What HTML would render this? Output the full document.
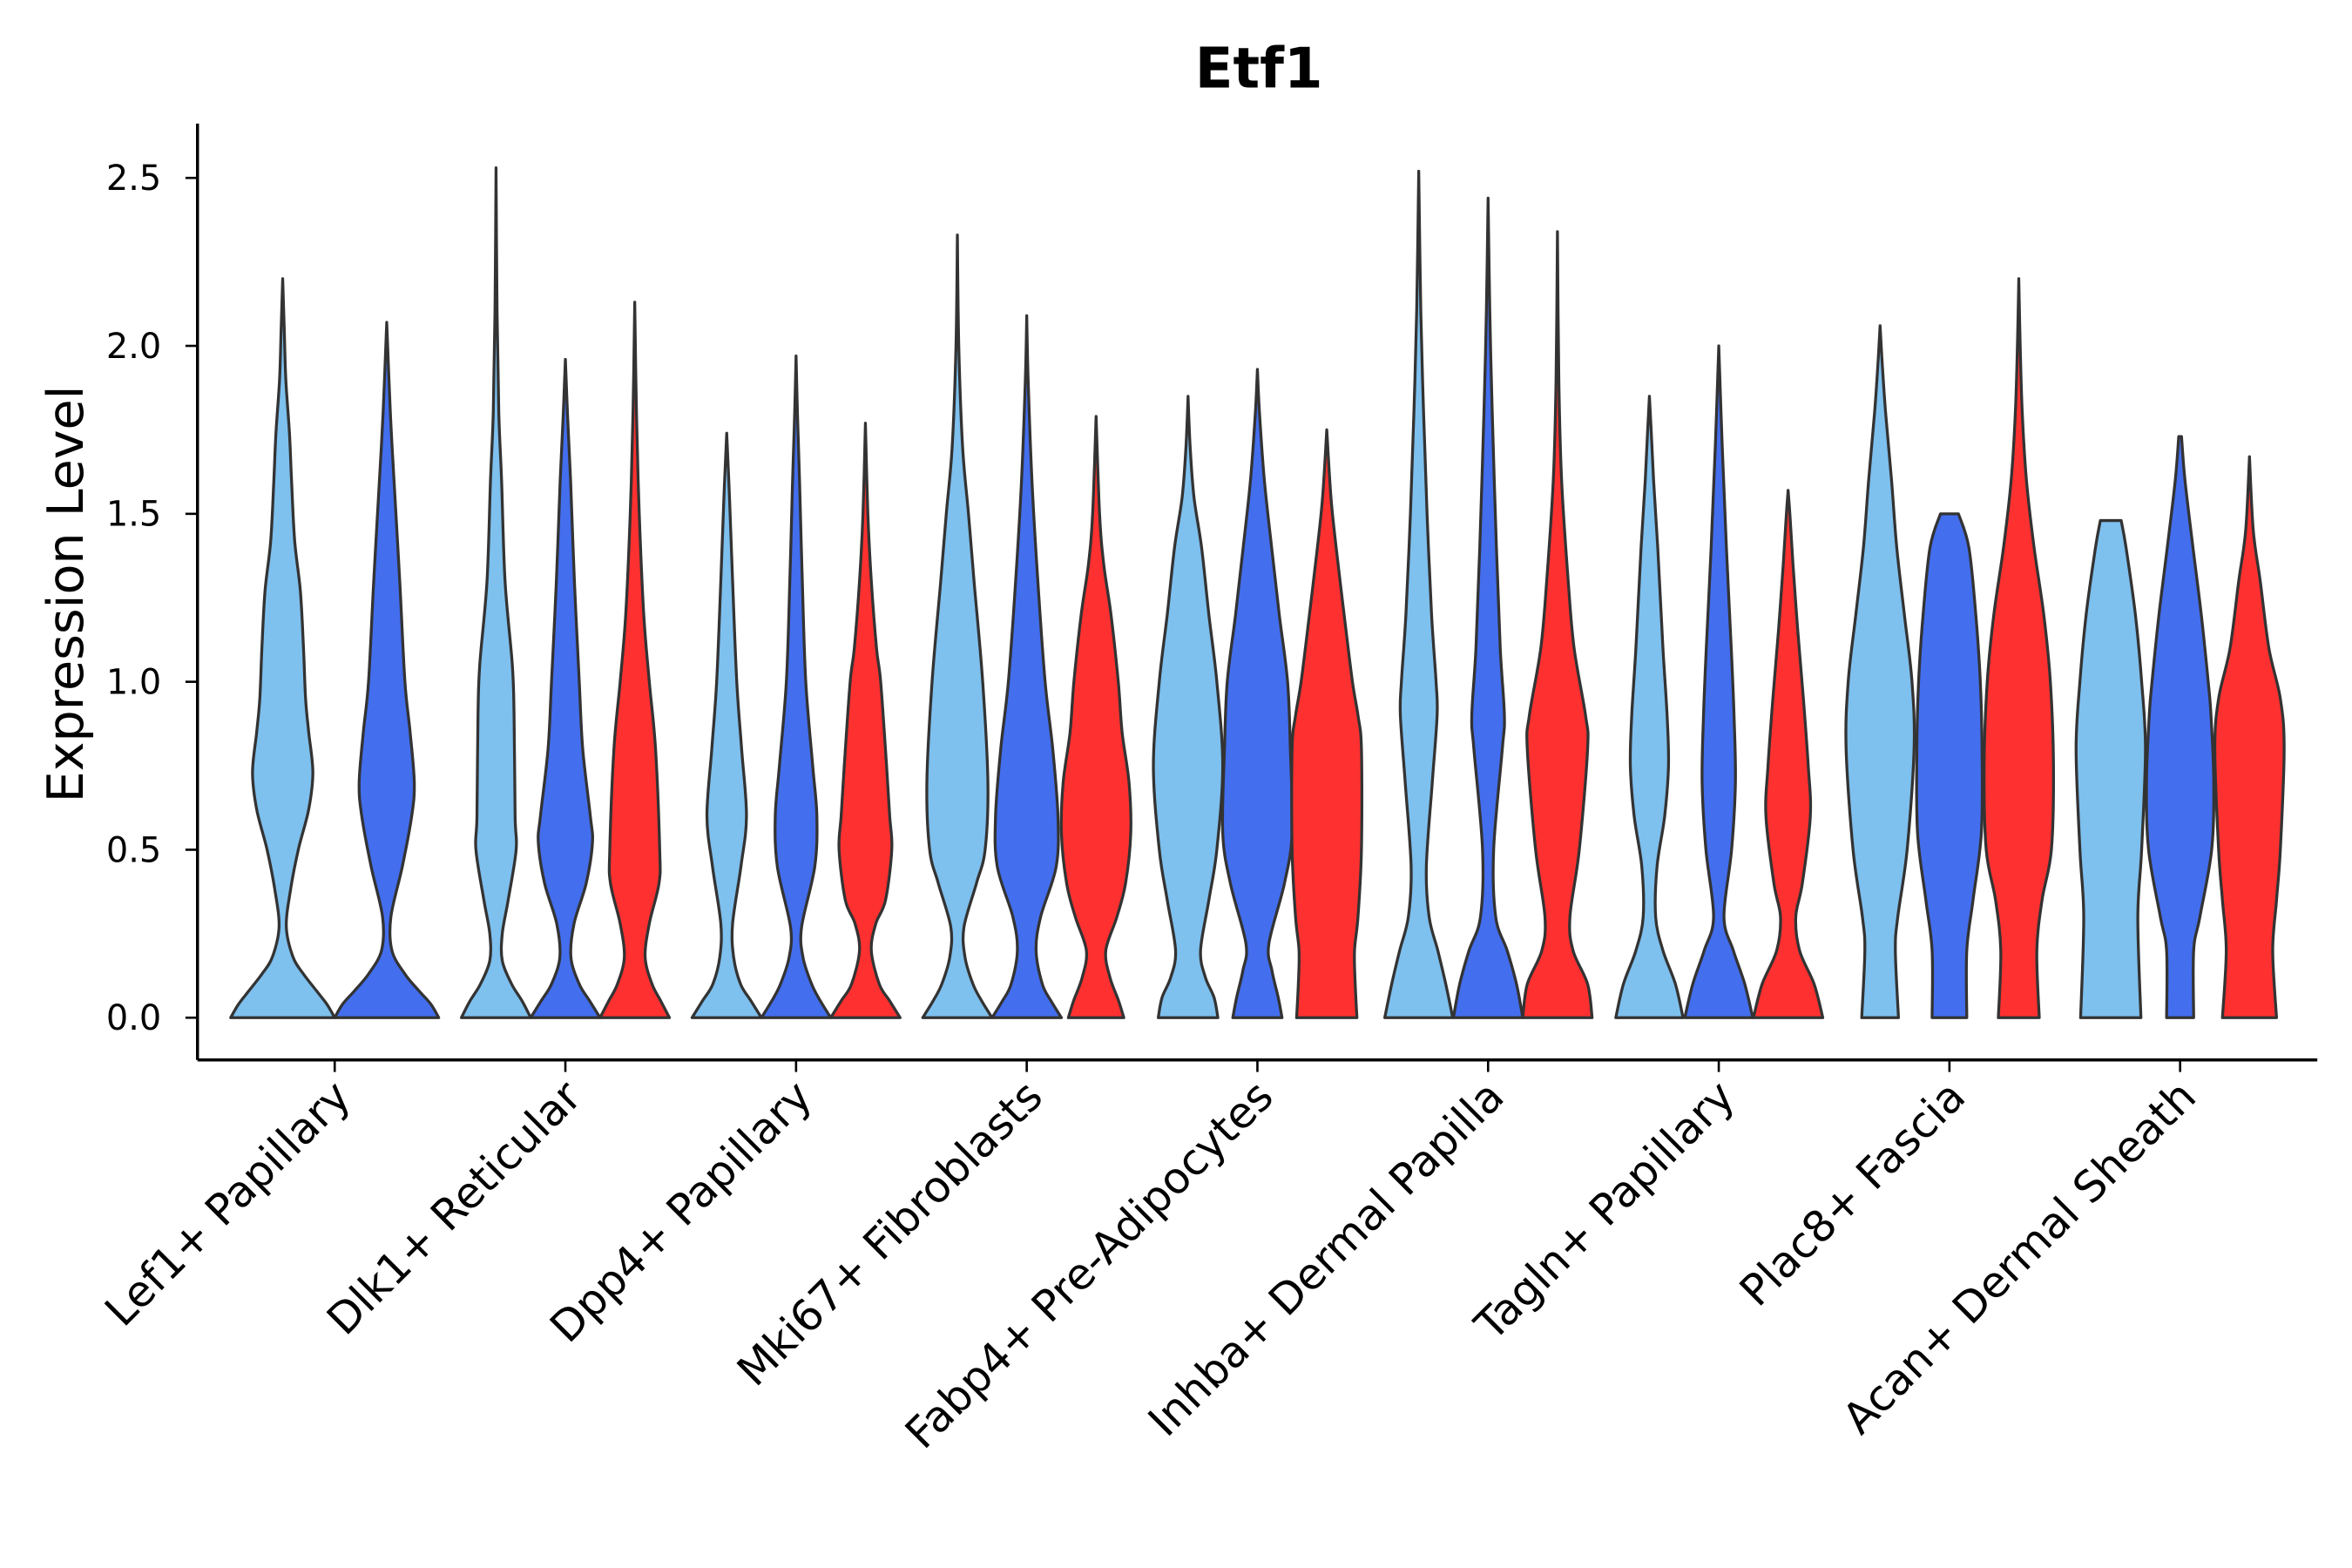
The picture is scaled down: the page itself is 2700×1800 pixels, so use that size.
<!DOCTYPE html>
<html><head><meta charset="utf-8"><style>
html,body{margin:0;padding:0;background:#fff;}
svg{display:block;font-family:"DejaVu Sans","Liberation Sans",sans-serif;}
</style></head><body>
<svg id="chart" width="2700" height="1800" viewBox="0 0 1560 1040" xmlns="http://www.w3.org/2000/svg">
<rect width="1560" height="1040" fill="#fff"/>
<text x="835" y="58" text-anchor="middle" font-size="37" font-weight="bold" fill="#000">Etf1</text>
<text transform="translate(55,394) rotate(-90)" text-anchor="middle" font-size="33" fill="#000">Expression Level</text>
<g id="violins"></g>
<g id="axes"></g>
</svg>
<script>
const categories = ["Lef1+ Papillary","Dlk1+ Reticular","Dpp4+ Papillary","Mki67+ Fibroblasts","Fabp4+ Pre-Adipocytes","Inhba+ Dermal Papilla","Tagln+ Papillary","Plac8+ Fascia","Acan+ Dermal Sheath"];
const splitColors = ["#7EC0EE","#436EEE","#FF3030"];
const yTicks = [0,0.5,1.0,1.5,2.0,2.5];
const yTickLabels = ["0.0","0.5","1.0","1.5","2.0","2.5"];
const groupLef1 = [
 [0,[[0,1],[0.04,0.85],[0.08,0.65],[0.13,0.4],[0.18,0.2],[0.27,0.07],[0.38,0.15],[0.5,0.3],[0.62,0.5],[0.73,0.58],[0.85,0.5],[0.95,0.44],[1.1,0.4],[1.27,0.34],[1.42,0.23],[1.6,0.17],[1.74,0.13],[1.9,0.06],[2.05,0.03],[2.2,0]]],
 [1,[[0,1],[0.04,0.85],[0.08,0.62],[0.13,0.35],[0.2,0.1],[0.3,0.08],[0.45,0.3],[0.6,0.48],[0.7,0.53],[0.85,0.45],[1.0,0.35],[1.3,0.25],[1.6,0.14],[1.8,0.07],[2.07,0]]]
];
const groupDlk1 = [
 [0,[[0,1],[0.05,0.75],[0.1,0.45],[0.17,0.18],[0.25,0.18],[0.35,0.35],[0.5,0.58],[0.6,0.55],[0.9,0.52],[1.05,0.47],[1.3,0.26],[1.6,0.16],[1.8,0.08],[2.1,0.03],[2.53,0]]],
 [1,[[0,1],[0.05,0.7],[0.1,0.4],[0.18,0.16],[0.28,0.25],[0.4,0.6],[0.52,0.78],[0.6,0.72],[0.8,0.5],[1.0,0.4],[1.3,0.26],[1.6,0.15],[1.8,0.06],[1.96,0]]],
 [2,[[0,1],[0.05,0.75],[0.1,0.5],[0.18,0.3],[0.28,0.42],[0.4,0.7],[0.5,0.72],[0.8,0.6],[1.0,0.42],[1.2,0.26],[1.5,0.13],[1.8,0.05],[2.13,0]]]
];
const groupDpp4 = [
 [0,[[0,1],[0.05,0.7],[0.1,0.4],[0.18,0.2],[0.28,0.17],[0.45,0.41],[0.6,0.57],[0.8,0.43],[1.0,0.29],[1.3,0.17],[1.55,0.08],[1.74,0]]],
 [1,[[0,1],[0.05,0.7],[0.1,0.45],[0.18,0.2],[0.27,0.16],[0.45,0.54],[0.6,0.6],[0.75,0.48],[1.0,0.28],[1.3,0.18],[1.6,0.1],[1.8,0.04],[1.97,0]]],
 [2,[[0,1],[0.05,0.7],[0.1,0.4],[0.2,0.17],[0.28,0.3],[0.35,0.58],[0.5,0.76],[0.6,0.7],[0.75,0.61],[1.0,0.44],[1.1,0.32],[1.3,0.17],[1.5,0.07],[1.77,0]]]
];
const groupMki67 = [
 [0,[[0,1],[0.05,0.7],[0.1,0.45],[0.18,0.22],[0.27,0.19],[0.4,0.55],[0.5,0.8],[0.7,0.88],[1.0,0.73],[1.3,0.48],[1.5,0.32],[1.7,0.15],[2.0,0.04],[2.33,0]]],
 [1,[[0,1],[0.05,0.7],[0.1,0.45],[0.2,0.27],[0.3,0.4],[0.45,0.85],[0.6,0.9],[0.8,0.75],[1.0,0.53],[1.3,0.32],[1.6,0.15],[1.9,0.04],[2.09,0]]],
 [2,[[0,0.8],[0.05,0.65],[0.12,0.4],[0.2,0.28],[0.3,0.6],[0.4,0.85],[0.55,1],[0.7,0.95],[0.85,0.75],[1.0,0.64],[1.2,0.43],[1.35,0.22],[1.5,0.1],[1.79,0]]]
];
const groupFabp4 = [
 [0,[[0,0.86],[0.06,0.75],[0.12,0.5],[0.2,0.36],[0.35,0.6],[0.5,0.83],[0.75,1],[1.0,0.83],[1.2,0.6],[1.4,0.39],[1.55,0.17],[1.7,0.06],[1.85,0]]],
 [1,[[0,0.71],[0.06,0.6],[0.14,0.42],[0.22,0.33],[0.4,0.78],[0.55,1],[0.8,0.95],[1.0,0.87],[1.2,0.63],[1.4,0.41],[1.6,0.2],[1.8,0.06],[1.93,0]]],
 [2,[[0,0.87],[0.1,0.82],[0.2,0.8],[0.3,0.9],[0.5,1],[0.8,1],[0.9,0.9],[1.0,0.74],[1.2,0.5],[1.4,0.27],[1.55,0.12],[1.75,0]]]
];
const groupInhba = [
 [0,[[0,0.98],[0.1,0.78],[0.2,0.55],[0.3,0.3],[0.45,0.22],[0.7,0.39],[0.9,0.53],[1.0,0.5],[1.2,0.37],[1.5,0.24],[1.8,0.14],[2.1,0.06],[2.52,0]]],
 [1,[[0,1],[0.1,0.82],[0.2,0.55],[0.3,0.22],[0.5,0.16],[0.8,0.41],[0.9,0.47],[1.1,0.35],[1.4,0.24],[1.8,0.12],[2.1,0.05],[2.44,0]]],
 [2,[[0,1],[0.1,0.87],[0.2,0.45],[0.3,0.36],[0.5,0.63],[0.8,0.87],[0.9,0.81],[1.1,0.48],[1.3,0.31],[1.6,0.12],[1.9,0.04],[2.34,0]]]
];
const groupTagln = [
 [0,[[0,0.97],[0.1,0.75],[0.2,0.39],[0.3,0.18],[0.45,0.22],[0.6,0.44],[0.75,0.55],[0.9,0.51],[1.1,0.39],[1.4,0.24],[1.6,0.12],[1.75,0.05],[1.85,0]]],
 [1,[[0,0.98],[0.1,0.75],[0.2,0.42],[0.3,0.15],[0.5,0.37],[0.7,0.48],[0.9,0.44],[1.1,0.36],[1.4,0.22],[1.7,0.1],[2.0,0]]],
 [2,[[0,1],[0.1,0.75],[0.2,0.33],[0.3,0.22],[0.4,0.41],[0.6,0.64],[0.75,0.58],[0.95,0.44],[1.15,0.28],[1.35,0.14],[1.5,0.05],[1.57,0]]]
];
const groupPlac8 = [
 [0,[[0,0.53],[0.2,0.44],[0.3,0.51],[0.5,0.78],[0.8,0.98],[1.0,0.92],[1.2,0.7],[1.4,0.48],[1.6,0.33],[1.8,0.16],[1.95,0.06],[2.06,0]]],
 [1,[[0,0.5],[0.2,0.5],[0.35,0.68],[0.55,0.92],[0.8,0.94],[1.0,0.89],[1.2,0.76],[1.4,0.56],[1.5,0.26]]],
 [2,[[0,0.59],[0.2,0.52],[0.35,0.67],[0.5,0.94],[0.75,1],[1.0,0.91],[1.2,0.72],[1.4,0.44],[1.6,0.22],[1.8,0.1],[2.0,0.04],[2.2,0]]]
];
const groupAcan = [
 [0,[[0,0.87],[0.3,0.78],[0.5,0.89],[0.8,1],[1.0,0.89],[1.2,0.71],[1.4,0.44],[1.48,0.3]]],
 [1,[[0,0.39],[0.2,0.39],[0.3,0.57],[0.5,0.91],[0.7,0.97],[0.9,0.89],[1.0,0.81],[1.2,0.61],[1.4,0.37],[1.6,0.14],[1.73,0.04]]],
 [2,[[0,0.78],[0.2,0.67],[0.35,0.78],[0.5,0.89],[0.8,1],[0.95,0.89],[1.1,0.56],[1.3,0.31],[1.45,0.11],[1.67,0]]]
];
const groups = [groupLef1,groupDlk1,groupDpp4,groupMki67,groupFabp4,groupInhba,groupTagln,groupPlac8,groupAcan];

const NS="http://www.w3.org/2000/svg";
const plotL=131, plotR=1537, plotB=703, plotT=82;
const y0px=675, unitPx=222.8;
const yScale = v => y0px - v*unitPx;
const xCenter = i => 222 + i*153;
const groupWidth = 138;

function smooth(pts){
  let d="";
  for(let i=0;i<pts.length-1;i++){
    const p0=pts[Math.max(i-1,0)],p1=pts[i],p2=pts[i+1],p3=pts[Math.min(i+2,pts.length-1)];
    const c1=[p1[0]+(p2[0]-p0[0])/6,p1[1]+(p2[1]-p0[1])/6];
    const c2=[p2[0]-(p3[0]-p1[0])/6,p2[1]-(p3[1]-p1[1])/6];
    d+=` C${c1[0].toFixed(2)},${c1[1].toFixed(2)} ${c2[0].toFixed(2)},${c2[1].toFixed(2)} ${p2[0].toFixed(2)},${p2[1].toFixed(2)}`;
  }
  return d;
}
const vg=document.getElementById('violins');
groups.forEach((g,gi)=>{
  const n=g.length, slot=groupWidth/n, half=slot/2;
  g.forEach((v,k)=>{
    const cx=xCenter(gi)-groupWidth/2+slot*(k+0.5);
    const prof=v[1];
    const right=prof.map(p=>[cx+p[1]*half, yScale(p[0])]);
    const left=prof.slice().reverse().map(p=>[cx-p[1]*half, yScale(p[0])]);
    let d=`M${right[0][0].toFixed(2)},${right[0][1].toFixed(2)}`+smooth(right);
    d+=` L${left[0][0].toFixed(2)},${left[0][1].toFixed(2)}`+smooth(left)+" Z";
    const path=document.createElementNS(NS,'path');
    path.setAttribute('d',d);
    path.setAttribute('fill',splitColors[v[0]]);
    path.setAttribute('stroke','#333');
    path.setAttribute('stroke-width','1.9');
    path.setAttribute('stroke-linejoin','round');
    
    
    vg.appendChild(path);
  });
});
const ag=document.getElementById('axes');
function el(tag,attrs,text){const e=document.createElementNS(NS,tag);for(const k in attrs)e.setAttribute(k,attrs[k]);if(text!=null)e.textContent=text;ag.appendChild(e);return e;}
const yl=el('line',{x1:plotL,y1:plotT,x2:plotL,y2:plotB,stroke:'#000','stroke-width':2});


const xl=el('line',{x1:plotL,y1:plotB,x2:plotR,y2:plotB,stroke:'#000','stroke-width':2});


yTicks.forEach((t,i)=>{
  const y=yScale(t);
  const tk=el('line',{x1:plotL-8,y1:y,x2:plotL,y2:y,stroke:'#000','stroke-width':1.5});
  
  
  const tl=el('text',{x:plotL-24,y:y+8,'text-anchor':'end','font-size':23,fill:'#000'},yTickLabels[i]);
  
  
});
categories.forEach((c,i)=>{
  const x=xCenter(i);
  const tk=el('line',{x1:x,y1:plotB,x2:x,y2:plotB+8,stroke:'#000','stroke-width':1.5});
  
  
  const tl=el('text',{transform:`translate(${x+12},${plotB+26}) rotate(-45)`,'text-anchor':'end','font-size':28.5,fill:'#000'},c);
  
  
});
</script>
</body></html>
